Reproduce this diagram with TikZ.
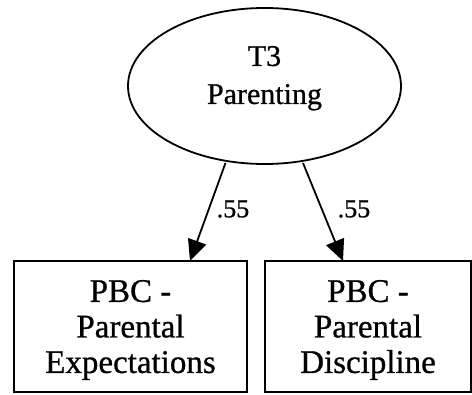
\documentclass[tikz,border=0pt]{standalone}
\usepackage{fontspec}
\setmainfont{Liberation Serif}[FakeBold=0.8]
\usetikzlibrary{arrows.meta,shapes.geometric}
\begin{document}
\begin{tikzpicture}[x=1pt,y=-1pt,
  every node/.style={inner sep=0pt, outer sep=0pt},
  latent/.style={draw, line width=1.8pt, ellipse, minimum width=273pt, minimum height=156pt, align=center, text depth=22pt, font=\fontsize{30}{38}\selectfont},
  obsbox/.style={draw, line width=1.8pt, align=center, text depth=0pt, font=\fontsize{33}{35.5}\selectfont},
  pathline/.style={line width=1.8pt, -{Triangle[length=21pt,width=19pt]}},
  coef/.style={font=\fontsize{26}{26}\selectfont}]
\useasboundingbox (0,0) rectangle (472,395);
\node[latent] (t3) at (264.5,86) {T3\\Parenting};
\node[obsbox, minimum width=233pt, minimum height=131pt] (pe) at (130.5,326.5) {PBC -\\Parental\\Expectations};
\node[obsbox, minimum width=206pt, minimum height=131pt] (pd) at (368,326.5) {PBC -\\Parental\\Discipline};
\coordinate (s1) at (225.5,163);
\coordinate (e1) at (190,261);
\coordinate (s2) at (303,163);
\coordinate (e2) at (343,261);
\draw[pathline] (s1) -- (e1);
\draw[pathline] (s2) -- (e2);
\node[coef] (c1) at (233,209) {.55};
\node[coef] (c2) at (354,209) {.55};
\end{tikzpicture}
\end{document}
